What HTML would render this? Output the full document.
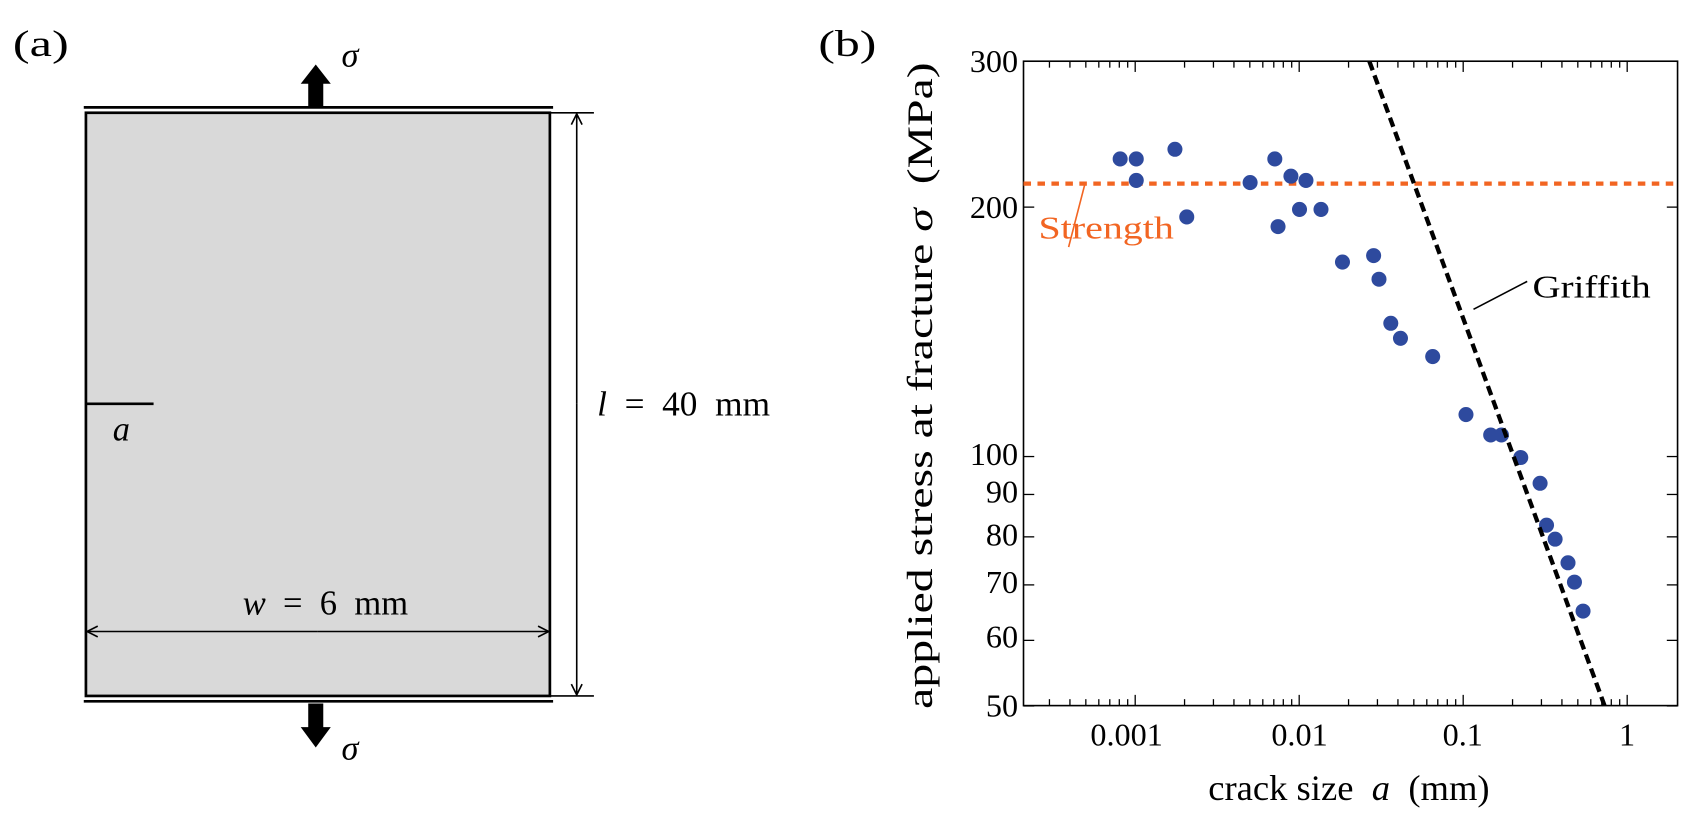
<!DOCTYPE html>
<html><head><meta charset="utf-8"><style>
html,body{margin:0;padding:0;background:#fff;}
svg{display:block;font-family:"Liberation Serif",serif;}
</style></head><body>
<svg width="1684" height="814" viewBox="0 0 1684 814" xmlns="http://www.w3.org/2000/svg">
<defs>
<marker id="ah" markerWidth="12" markerHeight="12" refX="11" refY="6" orient="auto" markerUnits="userSpaceOnUse">
<path d="M1,1 L11,6 L1,11" fill="none" stroke="#000" stroke-width="1.5"/></marker>
</defs>
<g transform="scale(1.07398)">
<!-- panel a -->
<text x="12" y="52" font-size="34" textLength="52" lengthAdjust="spacingAndGlyphs">(a)</text>
<rect x="80" y="105" width="432" height="543" fill="#d9d9d9" stroke="#000" stroke-width="2.5"/>
<line x1="78" y1="100" x2="515" y2="100" stroke="#000" stroke-width="2.5"/>
<line x1="78" y1="653" x2="515" y2="653" stroke="#000" stroke-width="2.5"/>
<polygon points="287,100 287,78 280,78 294,60 308,78 301,78 301,100" fill="#000"/>
<polygon points="287,655 287,677 280,677 294,696 308,677 301,677 301,655" fill="#000"/>
<text x="318" y="62" font-size="32" font-style="italic">σ</text>
<text x="318" y="707" font-size="32" font-style="italic">σ</text>
<line x1="80" y1="376" x2="143" y2="376" stroke="#000" stroke-width="2.5"/>
<text x="105" y="410" font-size="32" font-style="italic">a</text>
<line x1="512" y1="105" x2="553" y2="105" stroke="#000" stroke-width="1.5"/>
<line x1="512" y1="648" x2="553" y2="648" stroke="#000" stroke-width="1.5"/>
<line x1="537" y1="376" x2="537" y2="106" stroke="#000" stroke-width="1.5" marker-end="url(#ah)"/>
<line x1="537" y1="376" x2="537" y2="647" stroke="#000" stroke-width="1.5" marker-end="url(#ah)"/>
<line x1="296" y1="588" x2="81" y2="588" stroke="#000" stroke-width="1.5" marker-end="url(#ah)"/>
<line x1="296" y1="588" x2="511" y2="588" stroke="#000" stroke-width="1.5" marker-end="url(#ah)"/>
<text x="556" y="387" font-size="32" textLength="161" lengthAdjust="spacingAndGlyphs" xml:space="preserve"><tspan font-style="italic">l</tspan>  =  40  mm</text>
<text x="226" y="572" font-size="32" textLength="154" lengthAdjust="spacingAndGlyphs" xml:space="preserve"><tspan font-style="italic">w</tspan>  =  6  mm</text>
<!-- panel b -->
<text x="762" y="52" font-size="34" textLength="54" lengthAdjust="spacingAndGlyphs">(b)</text>
<rect x="953" y="57" width="609" height="600" fill="none" stroke="#000" stroke-width="1.5"/>
<g id="xt" stroke="#000" stroke-width="1.2"></g>
<g id="yt" stroke="#000" stroke-width="1.2"></g>
<g font-size="30" text-anchor="middle">
<text x="1049" y="694">0.001</text><text x="1210" y="694">0.01</text><text x="1362" y="694">0.1</text><text x="1515" y="694">1</text>
</g>
<g font-size="30" text-anchor="end">
<text x="948" y="67">300</text><text x="948" y="203">200</text><text x="948" y="433">100</text>
<text x="948" y="468">90</text><text x="948" y="508">80</text><text x="948" y="552">70</text>
<text x="948" y="603">60</text><text x="948" y="667">50</text>
</g>
<text x="1125" y="745" font-size="33" textLength="262" lengthAdjust="spacingAndGlyphs" xml:space="preserve">crack size  <tspan font-style="italic">a</tspan>  (mm)</text>
<text transform="translate(868,660) rotate(-90)" font-size="33" textLength="602" lengthAdjust="spacingAndGlyphs" xml:space="preserve">applied stress at fracture <tspan font-style="italic">σ</tspan>  (MPa)</text>
<line x1="953" y1="171" x2="1562" y2="171" stroke="#f26522" stroke-width="4" stroke-dasharray="7,6"/>
<line x1="1010" y1="172" x2="995" y2="230" stroke="#f26522" stroke-width="1.5"/>
<text x="967" y="222" font-size="30" fill="#f26522" textLength="126" lengthAdjust="spacingAndGlyphs">Strength</text>
<g fill="#2e4a9e">
<circle cx="1043" cy="148" r="7"/><circle cx="1058" cy="148" r="7"/><circle cx="1058" cy="168" r="7"/>
<circle cx="1094" cy="139" r="7"/><circle cx="1105" cy="202" r="7"/><circle cx="1164" cy="170" r="7"/>
<circle cx="1187" cy="148" r="7"/><circle cx="1190" cy="211" r="7"/><circle cx="1202" cy="164" r="7"/>
<circle cx="1210" cy="195" r="7"/><circle cx="1216" cy="168" r="7"/><circle cx="1230" cy="195" r="7"/>
<circle cx="1250" cy="244" r="7"/><circle cx="1279" cy="238" r="7"/><circle cx="1284" cy="260" r="7"/>
<circle cx="1304" cy="315" r="7"/><circle cx="1295" cy="301" r="7"/><circle cx="1334" cy="332" r="7"/>
<circle cx="1365" cy="386" r="7"/><circle cx="1388" cy="405" r="7"/><circle cx="1398" cy="405" r="7"/>
<circle cx="1416" cy="426" r="7"/><circle cx="1434" cy="450" r="7"/><circle cx="1440" cy="489" r="7"/>
<circle cx="1448" cy="502" r="7"/><circle cx="1460" cy="524" r="7"/><circle cx="1466" cy="542" r="7"/>
<circle cx="1474" cy="569" r="7"/>
</g>
<line x1="1275" y1="57" x2="1494" y2="657" stroke="#000" stroke-width="4" stroke-dasharray="9,5"/>
<line x1="1372" y1="288" x2="1422" y2="262" stroke="#000" stroke-width="1.5"/>
<text x="1427" y="277" font-size="30" textLength="110" lengthAdjust="spacingAndGlyphs">Griffith</text>
</g>
<script>
(function(){
var ns="http://www.w3.org/2000/svg",xt=document.getElementById('xt'),yt=document.getElementById('yt');
function ln(g,x1,y1,x2,y2){var l=document.createElementNS(ns,'line');l.setAttribute('x1',x1);l.setAttribute('y1',y1);l.setAttribute('x2',x2);l.setAttribute('y2',y2);g.appendChild(l);}
var x0=1057,d=152.7;
for(var e=-4;e<=0;e++){for(var m=1;m<10;m++){var x=x0+(e+3+Math.log10(m))*d;if(x<954||x>1561)continue;var L=m==1?10:6;ln(xt,x,657,x,657-L);ln(xt,x,57,x,57+L);}}
var yd=771.5;
[50,60,70,80,90,100,200,300].forEach(function(v){var y=57+Math.log10(300/v)*yd;ln(yt,953,y,963,y);ln(yt,1562,y,1552,y);});
})();
</script>
</svg>
</body></html>
